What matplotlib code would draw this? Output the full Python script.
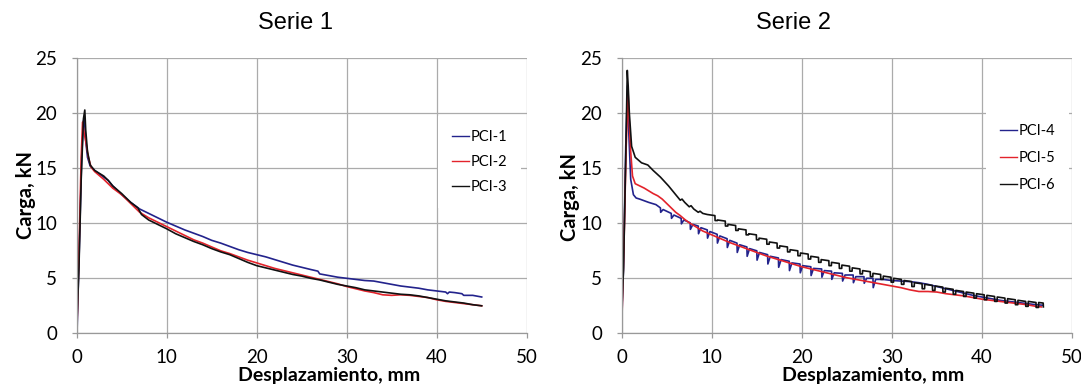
#!/usr/bin/env python3
import matplotlib
matplotlib.use("Agg")
import matplotlib.pyplot as plt

# ---- Serie 1 ----
pci1_x = [0.05, 0.3, 0.55, 0.75, 0.85, 1.0, 1.2, 1.5, 2.0, 2.5, 3.0, 3.5, 4.0, 5.0, 6.0, 7.0, 8.0, 9.0,
          10, 11, 12, 13, 14, 15, 16, 17, 18, 19, 20, 21, 22, 23, 24, 25, 26, 26.8, 27, 28, 29, 30,
          31, 32, 33, 34, 35, 36, 37, 38, 39, 40, 41, 41.2, 41.4, 42, 42.8, 43, 44, 45]
pci1_y = [0.5, 8, 16, 19.3, 19.6, 17.5, 16, 15.2, 14.8, 14.5, 14.2, 13.9, 13.4, 12.6, 11.9, 11.3, 10.9, 10.5,
          10.1, 9.75, 9.4, 9.1, 8.8, 8.45, 8.2, 7.9, 7.6, 7.35, 7.15, 6.95, 6.7, 6.45, 6.2, 6.0, 5.8, 5.65, 5.4,
          5.25, 5.1, 5.0, 4.9, 4.8, 4.75, 4.6, 4.45, 4.3, 4.2, 4.1, 3.95, 3.85, 3.75, 3.6, 3.75, 3.7, 3.6,
          3.45, 3.45, 3.3]

pci2_x = [0.05, 0.3, 0.5, 0.65, 0.8, 1.0, 1.3, 1.6, 2.0, 3.0, 3.5, 4.0, 5.0, 6.0, 7.0, 8.0, 9.0,
          10, 11, 12, 13, 14, 15, 16, 17, 18, 19, 20, 21, 22, 23, 24, 25, 26, 27, 28, 29, 30,
          31, 32, 33, 34, 35, 36, 37, 38, 39, 40, 41, 42, 43, 44, 45]
pci2_y = [1, 9, 16, 19.2, 18.3, 17.5, 16, 15.1, 14.7, 14.0, 13.6, 13.2, 12.6, 11.8, 11.0, 10.5, 10.1,
          9.7, 9.3, 8.9, 8.5, 8.2, 7.85, 7.5, 7.25, 6.95, 6.65, 6.4, 6.15, 5.9, 5.7, 5.5, 5.3, 5.1, 4.9,
          4.7, 4.5, 4.25, 4.05, 3.85, 3.7, 3.5, 3.45, 3.5, 3.45, 3.35, 3.25, 3.05, 2.9, 2.8, 2.7, 2.6, 2.5]

pci3_x = [0.05, 0.25, 0.5, 0.75, 0.9, 1.0, 1.2, 1.5, 2.0, 3.0, 3.5, 4.0, 5.0, 6.0, 6.8, 7.2, 8.0, 9.0,
          10, 11, 12, 13, 14, 15, 16, 17, 18, 19, 20, 21, 22, 23, 24, 25, 26, 27, 28, 29, 30,
          31, 32, 33, 34, 35, 36, 37, 38, 39, 40, 41, 42, 43, 44, 45]
pci3_y = [1.5, 6, 14, 19.5, 20.3, 18.5, 16.5, 15.3, 14.8, 14.3, 13.9, 13.4, 12.7, 11.9, 11.4, 10.8, 10.3, 9.9,
          9.5, 9.05, 8.7, 8.35, 8.05, 7.7, 7.4, 7.15, 6.8, 6.45, 6.15, 5.95, 5.75, 5.55, 5.35, 5.2, 5.0,
          4.85, 4.65, 4.45, 4.3, 4.15, 3.95, 3.85, 3.75, 3.65, 3.55, 3.5, 3.4, 3.25, 3.1, 2.95, 2.85,
          2.75, 2.6, 2.5]

# ---- Serie 2 ----
pci4_x = [0.02, 0.2, 0.45, 0.65, 0.8, 1.0, 1.3, 1.6, 2.0, 3.0, 3.8,
          4.3, 4.33, 4.6, 5.5, 5.53, 5.8, 6.6, 6.63, 6.9, 7.6, 7.63, 7.9, 8.5, 8.53, 8.8,
          9.5, 9.53, 9.8, 10.6, 10.63, 10.9, 11.7, 11.73, 12.0, 12.8, 12.83, 13.1,
          13.9, 13.93, 14.2, 15.0, 15.03, 15.3, 16.2, 16.23, 16.5, 17.4, 17.43, 17.7,
          18.6, 18.63, 18.9, 19.8, 19.83, 20.1, 21.0, 21.03, 21.3, 22.2, 22.23, 22.5,
          23.3, 23.33, 23.6, 24.5, 24.53, 24.8, 25.7, 25.73, 26.0, 26.9, 26.93, 27.2,
          27.9, 27.93, 28.2,
          29, 30, 31, 32, 33, 34, 35, 36, 37, 38, 39, 40, 41, 42, 43, 44, 45, 46, 46.8]
pci4_y = [1.5, 6, 17, 22.5, 18, 14, 12.6, 12.3, 12.2, 11.9, 11.7,
          11.4, 11.0, 11.25, 10.9, 10.45, 10.75, 10.45, 9.95, 10.3, 10.05, 9.45, 9.9, 9.75, 9.05, 9.6,
          9.4, 8.65, 9.25, 9.0, 8.2, 8.85, 8.6, 7.8, 8.45, 8.2, 7.35, 8.05,
          7.85, 7.0, 7.7, 7.5, 6.65, 7.35, 7.15, 6.3, 7.0, 6.85, 6.0, 6.7,
          6.55, 5.7, 6.4, 6.3, 5.5, 6.15, 6.05, 5.25, 5.9, 5.85, 5.1, 5.7,
          5.65, 4.9, 5.5, 5.45, 4.75, 5.3, 5.3, 4.6, 5.15, 5.15, 4.55, 5.0,
          5.0, 4.15, 4.9,
          4.9, 4.8, 4.75, 4.7, 4.6, 4.45, 4.25, 4.05, 3.85, 3.65, 3.45, 3.3, 3.15, 3.0, 2.9, 2.8, 2.7,
          2.6, 2.55]

pci5_x = [0.05, 0.25, 0.5, 0.72, 0.85, 1.0, 1.2, 1.5, 2.0, 2.5, 3.0, 3.5, 4.0, 4.5, 5.0, 5.5, 6.0, 6.5,
          7.0, 7.5, 8.0, 8.5, 9.0, 10, 11, 12, 13, 14, 15, 16, 17, 18, 19, 20, 21, 22, 23, 24, 25,
          26, 27, 28, 29, 30, 31, 32, 33, 34, 35, 36, 37, 38, 39, 40, 41, 42, 43, 44, 45, 46, 46.6]
pci5_y = [2, 8, 17, 21.7, 19, 16.5, 14.3, 13.6, 13.4, 13.2, 12.95, 12.7, 12.5, 12.2, 11.8, 11.4, 11.0,
          10.7, 10.35, 10.05, 9.8, 9.55, 9.3, 8.95, 8.6, 8.25, 7.95, 7.65, 7.35, 7.05, 6.8, 6.55, 6.3,
          6.05, 5.85, 5.65, 5.45, 5.25, 5.05, 4.9, 4.75, 4.6, 4.45, 4.3, 4.15, 3.95, 3.8, 3.8, 3.75,
          3.6, 3.5, 3.4, 3.25, 3.1, 3.0, 2.9, 2.8, 2.7, 2.6, 2.45, 2.4]

pci6_x = [0.0, 0.2, 0.45, 0.62, 0.72, 0.85, 1.1, 1.5, 2.2, 2.9, 3.5, 4.3, 5.2, 6.0, 6.5, 6.7, 7.0,
          7.5, 7.7, 8.0, 8.5, 8.7, 9.0,
          9.5, 10.35, 10.37, 10.63, 10.65, 11.5, 11.52, 11.78, 11.8, 12.65, 12.67, 12.93,
          12.95, 13.8, 13.82, 14.08, 14.1, 14.95, 14.97, 15.23, 15.25, 16.1, 16.12, 16.38,
          16.4, 17.25, 17.27, 17.53, 17.55, 18.4, 18.42, 18.68, 18.7, 19.55, 19.57, 19.83,
          19.85, 20.7, 20.72, 20.98, 21.0, 21.85, 21.87, 22.13, 22.15, 23.0, 23.02, 23.28,
          23.3, 24.15, 24.17, 24.43, 24.45, 25.3, 25.32, 25.58, 25.6, 26.45, 26.47, 26.73,
          26.75, 27.6, 27.62, 27.88, 27.9, 28.75, 28.77, 29.03, 29.05, 29.9, 29.92, 30.18,
          30.2, 31.05, 31.07, 31.33, 31.35, 32.2, 32.22, 32.48, 32.5, 33.35, 33.37, 33.63,
          33.65, 34.5, 34.52, 34.78, 34.8, 35.65, 35.67, 35.93, 35.95, 36.8, 36.82, 37.08,
          37.1, 37.95, 37.97, 38.23, 38.25, 39.1, 39.12, 39.38, 39.4, 40.25, 40.27, 40.53,
          40.55, 41.4, 41.42, 41.68, 41.7, 42.55, 42.57, 42.83, 42.85, 43.7, 43.72, 43.98,
          44.0, 44.85, 44.87, 45.13, 45.15, 46.0, 46.02, 46.28, 46.3, 46.8, 46.82]
pci6_y = [1.8, 5.8, 16, 23.9, 22.5, 20, 17, 16, 15.5, 15.3, 14.8, 14.2, 13.4, 12.6, 12.1, 12.2, 11.9,
          11.5, 11.6, 11.3, 11.0, 11.1, 10.9,
          10.8, 10.7, 10.25, 10.25, 10.3, 10.2, 9.75, 9.75, 9.9, 9.8, 9.35, 9.35,
          9.5, 9.4, 8.95, 8.95, 9.05, 8.95, 8.5, 8.5, 8.65, 8.55, 8.1, 8.1,
          8.3, 8.2, 7.75, 7.75, 7.95, 7.85, 7.4, 7.4, 7.6, 7.5, 7.05, 7.05,
          7.3, 7.2, 6.75, 6.75, 7.0, 6.9, 6.45, 6.45, 6.7, 6.6, 6.15, 6.15,
          6.45, 6.35, 5.9, 5.9, 6.2, 6.1, 5.65, 5.65, 5.95, 5.85, 5.4, 5.4,
          5.7, 5.6, 5.15, 5.15, 5.45, 5.35, 4.9, 4.9, 5.2, 5.1, 4.65, 4.65,
          5.0, 4.9, 4.45, 4.45, 4.8, 4.7, 4.25, 4.25, 4.6, 4.5, 4.05, 4.05,
          4.45, 4.35, 3.9, 3.9, 4.3, 4.2, 3.75, 3.75, 4.1, 4.0, 3.55, 3.55,
          3.9, 3.8, 3.35, 3.35, 3.75, 3.65, 3.2, 3.2, 3.6, 3.5, 3.05, 3.05,
          3.45, 3.35, 2.9, 2.9, 3.3, 3.2, 2.75, 2.75, 3.15, 3.05, 2.6, 2.6,
          3.0, 2.9, 2.45, 2.45, 2.9, 2.8, 2.35, 2.35, 2.8, 2.75, 2.4]

BLUE = "#23238c"
RED = "#e3232b"
BLACK = "#111111"
GRID = "#ababab"

FIG_W, FIG_H = 1081, 385


def style_axes(ax):
    ax.set_xlim(0, 50)
    ax.set_ylim(0, 25)
    ax.set_xticks([0, 10, 20, 30, 40, 50])
    ax.set_yticks([0, 5, 10, 15, 20, 25])
    ax.grid(True, color=GRID, lw=0.9)
    ax.set_axisbelow(True)
    for side in ["top", "right"]:
        ax.spines[side].set_visible(False)
    for side in ["left", "bottom"]:
        ax.spines[side].set_color("#999999")
        ax.spines[side].set_linewidth(0.9)
    ax.tick_params(axis="both", direction="out", length=3.6, width=0.9, color="#999999",
                   labelsize=13.5)
    ax.tick_params(axis="x", pad=8)
    ax.tick_params(axis="y", pad=10.5)
    for lab in ax.get_xticklabels() + ax.get_yticklabels():
        lab.set_fontfamily("Lato")


def draw_panel(ax, series, legend_anchor, spacing):
    for (x, y, label, color) in series:
        ax.plot(x, y, color=color, lw=1.2, label=label)
    style_axes(ax)
    leg = ax.legend(loc="upper left", bbox_to_anchor=legend_anchor, frameon=True,
                    facecolor="white", edgecolor="none", framealpha=1.0,
                    prop={"family": "Lato", "size": 10.5}, handlelength=1.16,
                    handletextpad=0.1, borderpad=0.96, labelspacing=spacing,
                    borderaxespad=0, fancybox=False)
    for line in leg.get_lines():
        line.set_linewidth(1.0)


def main():
    plt.rcParams["font.family"] = ["Lato", "DejaVu Sans"]
    fig = plt.figure(figsize=(FIG_W / 100, FIG_H / 100), dpi=100)

    ax1 = fig.add_axes([76.7 / FIG_W, 51.7 / FIG_H, 450 / FIG_W, 275 / FIG_H])
    ax2 = fig.add_axes([621.7 / FIG_W, 51.7 / FIG_H, 450.3 / FIG_W, 275 / FIG_H])

    draw_panel(ax1, [(pci1_x, pci1_y, "PCI-1", BLUE),
                     (pci2_x, pci2_y, "PCI-2", RED),
                     (pci3_x, pci3_y, "PCI-3", BLACK)], (0.803, 0.79), 0.75)
    draw_panel(ax2, [(pci4_x, pci4_y, "PCI-4", BLUE),
                     (pci5_x, pci5_y, "PCI-5", RED),
                     (pci6_x, pci6_y, "PCI-6", BLACK)], (0.809, 0.812), 0.88)

    title_font = dict(family="Liberation Sans", size=17, ha="center", va="center")
    fig.text(296 / FIG_W, 1 - 23 / FIG_H, "Serie 1", **title_font)
    fig.text(794 / FIG_W, 1 - 23 / FIG_H, "Serie 2", **title_font)

    ylab = dict(family="Lato", weight="bold", size=14.5, rotation=90, ha="center", va="center")
    fig.text(26 / FIG_W, 1 - 195 / FIG_H, "Carga, kN", **ylab)
    fig.text(570 / FIG_W, 1 - 197 / FIG_H, "Carga, kN", **ylab)

    # reference crops the descenders; keep the whole label inside the canvas
    xlab = dict(family="Lato", weight="bold", size=14, ha="center", va="bottom")
    fig.text(329 / FIG_W, 1 / FIG_H, "Desplazamiento, mm", **xlab)
    fig.text(873 / FIG_W, 1 / FIG_H, "Desplazamiento, mm", **xlab)

    fig.savefig("out.png", dpi=100)


if __name__ == "__main__":
    main()
